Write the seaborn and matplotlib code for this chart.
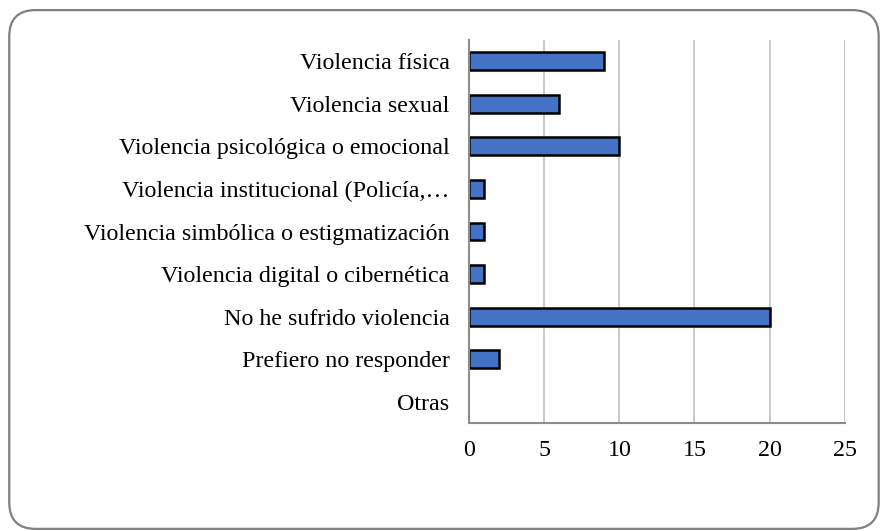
import matplotlib
matplotlib.use("Agg")
import matplotlib.pyplot as plt
import seaborn as sns
import pandas as pd
from matplotlib.patches import FancyBboxPatch

# data
categorias = ["Violencia física", "Violencia sexual", "Violencia psicológica o emocional",
              "Violencia institucional (Policía,…", "Violencia simbólica o estigmatización",
              "Violencia digital o cibernética", "No he sufrido violencia",
              "Prefiero no responder", "Otras"]
valores = [9, 6, 10, 1, 1, 1, 20, 2, 0]
ticks_x = [0, 5, 10, 15, 20, 25]

df = pd.DataFrame({"categoria": categorias, "valor": valores})

sns.set_style("white")
plt.rcParams["font.family"] = ["Liberation Serif", "DejaVu Serif"]

fig = plt.figure(figsize=(8.8, 5.31), dpi=100)
ax = fig.add_axes([0.533, 0.203, 0.427, 0.722])

sns.barplot(data=df, x="valor", y="categoria", orient="h", color="#4472C4",
            saturation=1, edgecolor="black", linewidth=1.8, width=0.42, ax=ax)

# no outline on empty bars
for p in ax.patches:
    if p.get_width() == 0:
        p.set_linewidth(0)

ax.set_xlim(0, 25)
ax.set_xticks(ticks_x)
ax.set_xlabel("")
ax.set_ylabel("")
ax.grid(axis="x", color="#BFBFBF", linewidth=1.2)
ax.set_axisbelow(True)
for s in ["top", "right"]:
    ax.spines[s].set_visible(False)
ax.spines["left"].set_color("#8C8C8C")
ax.spines["left"].set_linewidth(1.5)
ax.spines["bottom"].set_color("#8C8C8C")
ax.spines["bottom"].set_linewidth(1.5)
ax.tick_params(axis="both", labelsize=17.3, length=0, colors="black")
ax.tick_params(axis="y", pad=14)
ax.tick_params(axis="x", pad=12)

# rounded frame around the chart
frame = FancyBboxPatch((0.0105, 0.004), 0.988, 0.977, boxstyle="round,pad=0,rounding_size=0.03",
                       transform=fig.transFigure, fill=False, edgecolor="#808080", linewidth=1.6,
                       mutation_aspect=880 / 531)
fig.patches.append(frame)

fig.savefig("out.png", dpi=100)
